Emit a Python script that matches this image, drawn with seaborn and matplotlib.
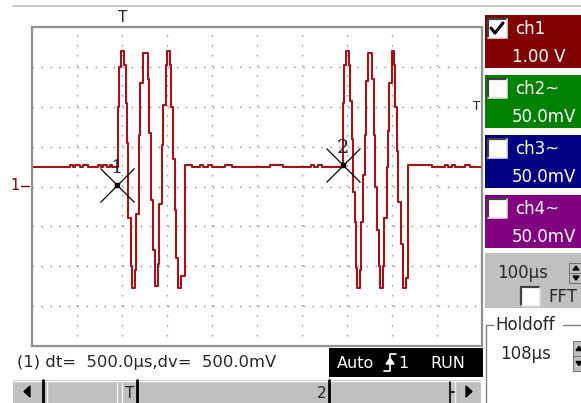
import matplotlib
matplotlib.use("Agg")
import pandas as pd
import matplotlib.pyplot as plt
from matplotlib.patches import Rectangle, Polygon
import seaborn as sns

# ch1 trace: time in µs from left edge of screen, volts (step-post samples)
pre_t = [0, 84.4, 91.1, 95.6, 106.7, 113.3, 124.4, 146.7, 153.3, 157.8, 166.7, 173.3, 177.8]
pre_v = [0.5, 0.55, 0.5, 0.55, 0.5, 0.55, 0.5, 0.55, 0.5, 0.55, 0.5, 0.55, 0.5]

burst1_t = [190.0, 193.3, 197.8, 204.4, 207.8, 211.1, 214.4, 218.9, 222.2, 228.9, 232.2,
            236.7, 241.1, 246.7, 256.7, 261.1, 264.4, 268.9, 273.3, 280.0, 283.3, 287.8,
            292.2, 296.7, 300.0, 305.6, 308.9, 313.3, 316.7, 321.1, 324.4, 331.1]
burst1_v = [2.0, 3.0, 3.4, 3.05, 2.1, 1.1, -0.8, -2.0, -2.55, -2.1, -0.7,
            1.3, 2.6, 3.35, 2.7, 1.35, -0.35, -1.6, -2.5, -1.95, -0.45, 1.05,
            2.05, 3.05, 3.4, 3.05, 2.0, 0.7, -0.6, -1.8, -2.55, -2.25]

gap_t = [340.0, 355.6, 373.3, 380.0, 391.1, 400.0, 428.9, 444.4, 528.9, 557.8, 620.0, 626.7, 635.6, 644.4]
gap_v = [0.55, 0.5, 0.55, 0.5, 0.55, 0.5, 0.55, 0.5, 0.55, 0.5, 0.55, 0.5, 0.55, 0.5]

burst2_t = [690.0, 694.0, 698.4, 705.1, 707.3, 711.1, 714.0, 717.8, 721.1, 723.3, 728.9, 732.2,
            735.6, 738.9, 742.2, 746.0, 756.2, 758.9, 762.2, 766.7, 770.0, 773.3, 780.0, 783.3,
            787.8, 791.1, 794.4, 798.9, 805.1, 807.3, 811.1, 814.4, 818.9, 823.8, 831.1]
burst2_v = [2.1, 3.05, 3.4, 3.05, 2.15, 1.2, -0.15, -0.9, -2.05, -2.55, -2.1, -0.9,
            0.3, 1.3, 2.65, 3.35, 2.7, 1.3, 0.0, -1.1, -2.0, -2.55, -2.0, -0.8,
            0.5, 1.4, 2.6, 3.4, 3.05, 2.0, 0.9, -0.4, -1.45, -2.55, -2.3]

post_t = [836.2, 888.9, 917.8, 924.4, 933.3, 940.0, 962.2, 973.3, 1000]
post_v = [0.55, 0.5, 0.55, 0.5, 0.55, 0.5, 0.55, 0.5, 0.5]

# cursors
cur_t = [188, 690]
cur_v = [0.05, 0.55]
cur_lbl = ["1", "2"]

grid_t = [100, 200, 300, 400, 500, 600, 700, 800, 900]
grid_v = [-3, -2, -1, 0, 1, 2, 3]

channels = ["ch1", "ch2~", "ch3~", "ch4~"]
ranges = ["1.00 V", "50.0mV", "50.0mV", "50.0mV"]
ch_colors = ["#800000", "#008000", "#000080", "#800080"]
ch_on = [True, False, False, False]

readout = "(1) dt=  500.0µs,dv=  500.0mV"
timebase = "100µs"
holdoff = "108µs"

trace = pd.DataFrame({"t": pre_t + burst1_t + gap_t + burst2_t + post_t,
                      "v": pre_v + burst1_v + gap_v + burst2_v + post_v})

sns.set_style("white")
plt.rcParams["font.family"] = ["DejaVu Sans"]

fig = plt.figure(figsize=(5.81, 4.03), dpi=100)
ax = fig.add_axes([32 / 581, 1 - 346 / 403, 450 / 581, 319 / 403])

sns.lineplot(data=trace, x="t", y="v", drawstyle="steps-post", estimator=None, sort=False,
             color="#a01418", lw=1.5, ax=ax)

ax.set_xlim(0, 1000)
ax.set_ylim(-4, 4)
ax.set_xticks(grid_t)
ax.set_yticks(grid_v)
ax.set_xticklabels([])
ax.set_yticklabels([])
ax.tick_params(length=0)
ax.set_xlabel("")
ax.set_ylabel("")
ax.xaxis.grid(True, color="#8c8c8c", lw=1.0, linestyle=(0, (1.0, 6.2)))
ax.yaxis.grid(True, color="#8c8c8c", lw=1.0, linestyle=(0, (1.0, 5.5)))
ax.set_axisbelow(True)
for s in ax.spines.values():
    s.set_color("#909090")
    s.set_linewidth(1.6)

# cursors
ax.plot(cur_t, cur_v, "x", ms=24, mew=0.9, color="black", zorder=5)
ax.plot(cur_t, cur_v, "s", ms=3.5, color="black", zorder=6)
for t, v, l in zip(cur_t, cur_v, cur_lbl):
    ax.annotate(l, (t, v), xytext=(0, 12), textcoords="offset points", ha="center",
                va="center", fontsize=14, family="DejaVu Serif", zorder=6)

# screen furniture in pixel coordinates
ui = fig.add_axes([0, 0, 1, 1], zorder=10)
ui.set_xlim(0, 581)
ui.set_ylim(403, 0)
ui.axis("off")
ui.patch.set_alpha(0)

ui.plot([13, 581], [6, 6], color="#cccccc", lw=1.5)
ui.text(122.5, 18, "T", ha="center", va="center", fontsize=11)
ui.text(477, 106, "T", ha="center", va="center", fontsize=8.5)
ui.text(15, 186, "1", ha="center", va="center", fontsize=10.5, color="#800000")
ui.plot([21, 29], [186, 186], color="#800000", lw=1)


def checkbox(x, y, size, checked=False):
    ui.add_patch(Rectangle((x, y), size, size, fc="white", ec="none"))
    ui.plot([x, x, x + size], [y + size, y, y], color="#404040", lw=1.6)
    ui.plot([x + size, x + size, x], [y, y + size, y + size], color="#e0e0e0", lw=1.2)
    if checked:
        ui.plot([x + 3, x + 7, x + 15], [y + 9, y + 14, y + 4], color="black", lw=2.2)


def spinner(x, y, w, h):
    ui.add_patch(Rectangle((x, y), w, h, fc="#c0c0c0", ec="#606060", lw=0.6))
    ui.plot([x, x + w], [y + h / 2, y + h / 2], color="#606060", lw=0.6)
    cx = x + w / 2
    ui.add_patch(Polygon([[cx - 3, y + h / 4 + 2], [cx + 3, y + h / 4 + 2], [cx, y + h / 4 - 2]], color="black"))
    ui.add_patch(Polygon([[cx - 3, y + 3 * h / 4 - 2], [cx + 3, y + 3 * h / 4 - 2], [cx, y + 3 * h / 4 + 2]], color="black"))


for i, (name, rng, col, on) in enumerate(zip(channels, ranges, ch_colors, ch_on)):
    top = 15 + 60 * i
    ui.add_patch(Rectangle((485, top), 96, 53, fc=col, ec="none"))
    checkbox(488, top + 4, 19, on)
    ui.text(515, top + 14, name, color="white", fontsize=12, va="center")
    ui.text(512, top + 42, rng, color="white", fontsize=12, va="center")

ui.add_patch(Rectangle((485, 253), 96, 55, fc="#c0c0c0", ec="none"))
ui.text(497, 273, timebase, fontsize=12, va="center")
spinner(569, 263, 14, 20)
checkbox(521, 287, 19)
ui.text(548, 297, "FFT", fontsize=12, va="center")

ui.plot([581, 563], [325, 325], color="#808080", lw=1)
ui.plot([493, 486, 486], [325, 325, 403], color="#808080", lw=1)
ui.text(495, 325, "Holdoff", fontsize=12, va="center")
ui.text(500, 354, holdoff, fontsize=12, va="center")
spinner(573, 341, 12, 30)

ui.text(17, 362, readout, fontsize=11.8, va="center")

ui.add_patch(Rectangle((329, 348), 154, 29, fc="black", ec="none"))
ui.text(337, 363, "Auto", color="white", fontsize=11.5, va="center")
ui.plot([384, 390, 390, 396], [371, 371, 354, 354], color="white", lw=1.2)
ui.add_patch(Polygon([[386, 364], [394, 364], [390, 358]], color="white"))
ui.text(398, 363, "1", color="white", fontsize=11.5, va="center")
ui.text(430, 363, "RUN", color="white", fontsize=11.5, va="center")

# scrollbar
ui.add_patch(Rectangle((13, 380), 468, 23, fc="#c0c0c0", ec="none"))
ui.plot([13, 481], [380.5, 380.5], color="white", lw=1)
ui.add_patch(Polygon([[24, 391.5], [30, 386], [30, 397]], color="black"))
ui.plot([47, 47], [382, 403], color="#f0f0f0", lw=1)
ui.plot([117, 117], [382, 403], color="#f0f0f0", lw=1)
ui.plot([122, 122], [382, 403], color="#f0f0f0", lw=1)
ui.plot([455, 455], [382, 403], color="#f0f0f0", lw=1)
for xm in [43, 137, 329]:
    ui.plot([xm, xm], [380, 403], color="black", lw=2)
ui.plot([450, 450], [382, 403], color="black", lw=1.2)
ui.plot([450, 454], [392, 392], color="black", lw=1.2)
ui.text(130, 393, "T", ha="center", va="center", fontsize=11)
ui.text(322, 393, "2", ha="center", va="center", fontsize=11)
ui.add_patch(Polygon([[472, 391.5], [466, 386], [466, 397]], color="black"))

fig.savefig("out.png", dpi=100)
